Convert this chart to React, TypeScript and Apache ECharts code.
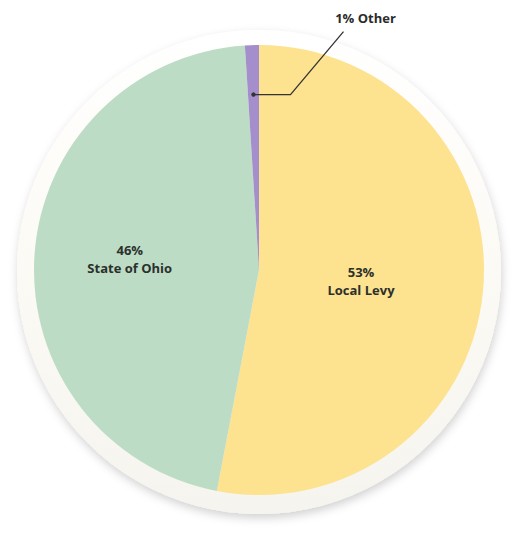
import React, { useEffect, useRef } from "react";
import * as echarts from "echarts";

const categories = ["Local Levy", "State of Ohio", "Other"];
const values = [53, 46, 1];
const colors = ["#fde28f", "#bddcc5", "#a48ecb"];
const labelTexts = ["53%\nLocal Levy", "46%\nState of Ohio", "1% Other"];

export default function App() {
  const ref = useRef<HTMLDivElement>(null);
  useEffect(() => {
    const chart = echarts.init(ref.current!, null, { renderer: "svg" });
    const cx = 259;
    const cy = 270;
    const R = 225;
    const total = values.reduce((a, b) => a + b, 0);
    const before = values[0] + values[1];
    const mid = ((before + values[2] / 2) / total) * Math.PI * 2;
    const dotR = R * 0.78;
    const dotX = cx + dotR * Math.sin(mid);
    const dotY = cy - dotR * Math.cos(mid);
    const elbowX = dotX + 37;
    const endX = elbowX + 53;
    const endY = dotY - 63;

    chart.setOption({
      animation: false,
      backgroundColor: "#ffffff",
      series: [
        {
          type: "pie",
          silent: true,
          center: [cx, cy + 2],
          radius: [0, 242],
          label: { show: false },
          labelLine: { show: false },
          data: [
            {
              value: 1,
              itemStyle: {
                color: {
                  type: "linear",
                  x: 0,
                  y: 0,
                  x2: 0,
                  y2: 1,
                  colorStops: [
                    { offset: 0, color: "#ffffff" },
                    { offset: 0.5, color: "#fcfaf4" },
                    { offset: 1, color: "#f6f4ee" },
                  ],
                },
                shadowBlur: 10,
                shadowColor: "rgba(0,0,0,0.18)",
                shadowOffsetY: 4,
                shadowOffsetX: 1,
              },
            },
          ],
        },
        {
          type: "pie",
          silent: true,
          center: [cx, cy],
          radius: [0, R],
          startAngle: 90,
          clockwise: true,
          itemStyle: { borderWidth: 0 },
          label: {
            show: true,
            position: "inside",
            fontFamily: "Open Sans",
            fontWeight: "bold",
            fontSize: 13,
            lineHeight: 18,
            color: "#2b302c",
            align: "center",
          },
          labelLine: { show: false },
          data: categories.map((c, i) => ({
            name: c,
            value: values[i],
            itemStyle: { color: colors[i] },
            label:
              i === 2
                ? { show: false }
                : {
                    formatter: labelTexts[i],
                    offset: i === 0 ? [-13, 0] : [-14, -4],
                  },
          })),
        },
      ],
      graphic: [
        {
          type: "polyline",
          shape: {
            points: [
              [dotX, dotY],
              [elbowX, dotY],
              [endX, endY],
            ],
          },
          style: { stroke: "#333333", lineWidth: 1.3, fill: "none" },
          z: 10,
        },
        {
          type: "circle",
          shape: { cx: dotX, cy: dotY, r: 2.2 },
          style: { fill: "#333333" },
          z: 10,
        },
        {
          type: "text",
          x: endX + 22,
          y: endY - 14,
          style: {
            text: labelTexts[2],
            fontFamily: "Open Sans",
            fontWeight: "bold",
            fontSize: 13,
            fill: "#2b2b2b",
            align: "center",
            verticalAlign: "middle",
          },
          z: 10,
        },
      ],
    });
    return () => chart.dispose();
  }, []);
  return (
    <div
      ref={ref}
      style={{ position: "fixed", left: 0, top: 0, width: 516, height: 539 }}
    />
  );
}
